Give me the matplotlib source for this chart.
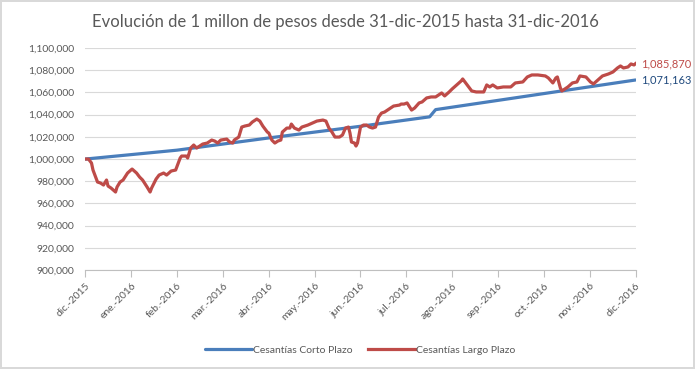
import matplotlib
matplotlib.use("Agg")
import matplotlib.pyplot as plt
from matplotlib.ticker import FuncFormatter

# dias desde 31-dic-2015 y valor de la inversion
dias_largo = [0, 2, 4, 5, 8, 10, 12, 14, 15, 17, 20, 21, 23, 25, 28, 31, 34, 36, 38, 41,
              43, 44, 47, 49, 52, 54, 57, 60, 63, 64, 67, 68, 70, 72, 74, 78, 81, 84, 86, 88,
              90, 94, 96, 98, 99, 102, 104, 106, 109, 111, 114, 116, 118, 121, 122, 124, 126, 128, 130, 131,
              134, 136, 137, 139, 142, 144, 148, 151, 154, 158, 160, 162, 164, 166, 169, 171, 173, 175, 176, 177,
              179, 180, 181, 183, 185, 187, 189, 191, 193, 195, 197, 199, 201, 203, 205, 209, 210, 212, 214, 217,
              219, 222, 224, 227, 230, 233, 237, 239, 242, 244, 247, 250, 251, 253, 255, 257, 260, 262, 265, 267,
              269, 271, 274, 278, 283, 286, 291, 294, 297, 301, 306, 308, 311, 313, 314, 316, 317, 321, 324, 327,
              329, 333, 336, 338, 341, 344, 348, 351, 354, 356, 358, 361, 363, 365, 366]
valor_largo = [1000000, 1000000, 996400, 990100, 979300, 978400, 976600, 981100, 975700, 973900,
               970300, 974800, 979300, 981100, 987400, 991000, 987400, 983800, 981100, 974800,
               970300, 973900, 982000, 985600, 987400, 985600, 989200, 990100, 1000900, 1002700,
               1002700, 1000900, 1009900, 1012600, 1009900, 1013500, 1014400, 1017100, 1016200, 1014400,
               1017100, 1018000, 1015300, 1014400, 1017100, 1019800, 1028800, 1029700, 1030600, 1033300,
               1036000, 1034200, 1029700, 1024300, 1023400, 1017100, 1014400, 1016200, 1017100, 1024300,
               1027900, 1027900, 1031500, 1027900, 1026100, 1028800, 1030600, 1032400, 1034200, 1035100,
               1034200, 1027900, 1024300, 1019800, 1019800, 1021600, 1027900, 1028800, 1023400, 1015300,
               1014400, 1011700, 1014400, 1028800, 1030600, 1030600, 1028800, 1027900, 1028800, 1037800,
               1041400, 1042300, 1044100, 1045900, 1047700, 1048600, 1049500, 1049500, 1050500, 1044100,
               1045900, 1050500, 1051400, 1055000, 1055900, 1055900, 1059500, 1056800, 1060400, 1063100,
               1066700, 1070300, 1072100, 1068500, 1064900, 1061300, 1060400, 1060400, 1060400, 1066700,
               1064900, 1066700, 1064000, 1064900, 1064900, 1068500, 1069400, 1073900, 1075700, 1075700,
               1074800, 1073000, 1068500, 1073000, 1073900, 1064000, 1061300, 1064900, 1068500, 1069400,
               1074800, 1073900, 1069400, 1067600, 1071200, 1074800, 1076600, 1078400, 1082000, 1083800,
               1082000, 1082900, 1085600, 1084700, 1085870]

dias_corto = [0, 61, 122, 183, 229, 233, 366]
valor_corto = [1000000, 1008000, 1019000, 1029500, 1038000, 1044500, 1071163]

meses = ["dic.-2015", "ene.-2016", "feb.-2016", "mar.-2016", "abr.-2016", "may.-2016",
         "jun.-2016", "jul.-2016", "ago.-2016", "sep.-2016", "oct.-2016", "nov.-2016", "dic.-2016"]

azul = "#4a7ebb"
rojo = "#be4b48"
gris = "#595959"

plt.rcParams['font.family'] = ['Lato', 'DejaVu Sans']

fig = plt.figure(figsize=(6.95, 3.69), dpi=100)
fig.patch.set_edgecolor("#d9d9d9")
fig.patch.set_linewidth(1.5)
ax = fig.add_axes([0.123, 0.268, 0.7914, 0.602])

ax.plot(dias_corto, valor_corto, color=azul, lw=2.3, label="Cesantías Corto Plazo", solid_capstyle="round")
ax.plot(dias_largo, valor_largo, color=rojo, lw=2.3, label="Cesantías Largo Plazo", solid_joinstyle="round")

ax.set_xlim(0, 366)
ax.set_ylim(900000, 1100000)
ax.set_yticks(range(900000, 1100001, 20000))
ax.yaxis.set_major_formatter(FuncFormatter(lambda v, p: "{:,.0f}".format(v)))
ax.set_xticks([i * 366 / 12 for i in range(13)])
ax.set_xticklabels(meses, rotation=45, ha="right", rotation_mode="anchor")

ax.grid(axis="y", color="#d9d9d9", lw=0.8)
ax.set_axisbelow(True)
for s in ["top", "right", "left"]:
    ax.spines[s].set_visible(False)
ax.spines["bottom"].set_color("#bfbfbf")
ax.tick_params(axis="y", length=0, labelsize=7.5, labelcolor=gris, pad=8)
ax.tick_params(axis="x", length=5, color="#bfbfbf", labelsize=7.5, labelcolor=gris, pad=3)

ax.text(370, valor_largo[-1], "{:,.0f}".format(valor_largo[-1]), color=rojo, fontsize=8, va="center", ha="left")
ax.text(370, valor_corto[-1], "{:,.0f}".format(valor_corto[-1]), color="#1f497d", fontsize=8, va="center", ha="left")

fig.text(0.497, 0.94, "Evolución de 1 millon de pesos desde 31-dic-2015 hasta 31-dic-2016",
         ha="center", va="center", fontsize=12, color=gris)

ax.legend(loc="center", bbox_to_anchor=(0.5, -0.36), ncol=2, frameon=False, fontsize=7.5,
          handlelength=4.5, handletextpad=0.1, columnspacing=1.5, labelcolor=gris)

fig.savefig("out.png", dpi=100)
